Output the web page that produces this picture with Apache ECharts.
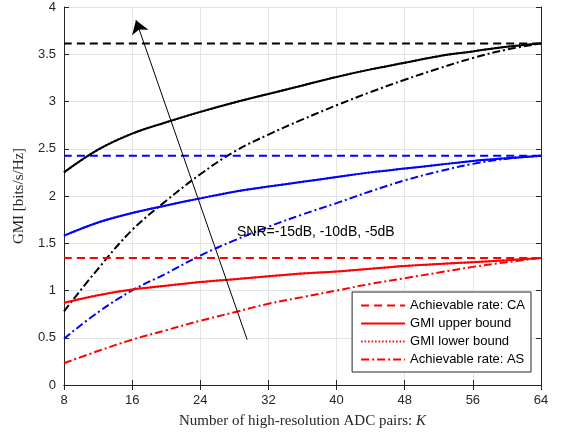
<!DOCTYPE html>
<html><head><meta charset="utf-8">
<script src="https://cdn.jsdelivr.net/npm/echarts@6/dist/echarts.min.js"></script>
<style>html,body{margin:0;padding:0;background:#fff}#c{width:564px;height:434px}</style>
</head><body><div id="c"></div>
<script>
const K = [8, 12, 16, 20, 24, 28, 32, 36, 40, 44, 48, 52, 56, 60, 64];
const xTicks = [8, 16, 24, 32, 40, 48, 56, 64];
const yTicks = [0, 0.5, 1, 1.5, 2, 2.5, 3, 3.5, 4];
const caBlack = 3.615, caBlue = 2.425, caRed = 1.345;
const upperBlack = [2.25, 2.49, 2.66, 2.78, 2.89, 2.99, 3.08, 3.17, 3.26, 3.34, 3.41, 3.48, 3.53, 3.58, 3.615];
const upperBlue  = [1.58, 1.72, 1.82, 1.90, 1.975, 2.045, 2.10, 2.15, 2.20, 2.25, 2.29, 2.33, 2.37, 2.40, 2.425];
const upperRed   = [0.87, 0.95, 1.01, 1.05, 1.09, 1.12, 1.15, 1.18, 1.20, 1.23, 1.26, 1.28, 1.30, 1.32, 1.345];
const asBlack = [0.78, 1.23, 1.64, 1.95, 2.23, 2.47, 2.65, 2.81, 2.96, 3.10, 3.23, 3.35, 3.46, 3.55, 3.615];
const asBlue  = [0.49, 0.77, 1.00, 1.18, 1.37, 1.53, 1.675, 1.805, 1.925, 2.05, 2.165, 2.26, 2.34, 2.395, 2.425];
const asRed   = [0.23, 0.36, 0.48, 0.58, 0.68, 0.77, 0.86, 0.93, 1.00, 1.07, 1.13, 1.19, 1.25, 1.30, 1.345];
const arrowFrom = [29.5, 0.48], arrowTo = [16.45, 3.86];
const legendNames = ['Achievable rate: CA', 'GMI upper bound', 'GMI lower bound', 'Achievable rate: AS'];

const DASH = [8, 5], DASHDOT = [8, 3, 2, 3], DOT = [1.5, 2];
const pair = (arr) => K.map((k, i) => [k, arr[i]]);
const flat = (v) => [[8, v], [64, v]];
function line(name, data, color, type, z) {
  return { name, type: 'line', data, smooth: 0.4, symbol: 'none', z: z || 2,
    lineStyle: { color, width: 2, type }, itemStyle: { color }, emphasis: { disabled: true } };
}
const series = [];
[['k', '#000', caBlack, upperBlack, asBlack], ['b', '#0000ff', caBlue, upperBlue, asBlue], ['r', '#ff0000', caRed, upperRed, asRed]].forEach(([id, c, ca, up, as]) => {
  series.push(line('ca_' + id, flat(ca), c, DASH));
  series.push(line('lo_' + id, pair(up), c, DOT, 2));
  series.push(line('up_' + id, pair(up), c, 'solid', 3));
  series.push(line('as_' + id, pair(as), c, DASHDOT));
});
// legend-only entries (red)
[DASH, 'solid', DOT, DASHDOT].forEach((t, i) => {
  series.push({ name: legendNames[i], type: 'line', data: [], symbol: 'none',
    lineStyle: { color: '#ff0000', width: 2, type: t }, itemStyle: { color: '#ff0000' } });
});
series.push({ name: 'arrow', type: 'line', data: [], symbol: 'none',
  markLine: { silent: true, symbol: ['none', 'arrow'], symbolSize: 13, label: { show: false },
    lineStyle: { color: '#000', width: 1, type: 'solid' },
    data: [[{ coord: arrowFrom }, { coord: arrowTo }]] } });

const axisCommon = {
  axisLine: { show: true, lineStyle: { color: '#262626', width: 1 } },
  axisTick: { show: true, inside: true, length: 5, lineStyle: { color: '#262626' } },
};
const chart = echarts.init(document.getElementById('c'), null, { renderer: 'canvas' });
chart.setOption({
  animation: false,
  backgroundColor: '#fff',
  grid: { left: 64, right: 23, top: 7, bottom: 48 },
  legend: {
    data: legendNames, orient: 'vertical', right: 33, bottom: 62,
    backgroundColor: '#fff', borderColor: '#262626', borderWidth: 1, borderRadius: 0,
    padding: [7, 6, 6, 8], itemGap: 5, itemWidth: 44, itemHeight: 12,
    itemStyle: { opacity: 0 },
    textStyle: { fontFamily: 'Liberation Sans', fontSize: 13, color: '#000' }
  },
  xAxis: [
    Object.assign({ type: 'value', min: 8, max: 64, interval: 8, position: 'bottom',
      name: '{n|Number of high-resolution ADC pairs: }{i|K}', nameLocation: 'middle', nameGap: 29,
      nameTextStyle: { rich: { n: { fontFamily: 'Liberation Serif', fontSize: 15, color: '#262626' },
        i: { fontFamily: 'Liberation Serif', fontStyle: 'italic', fontSize: 15, color: '#262626' } } },
      axisLabel: { fontFamily: 'Liberation Sans', fontSize: 13, color: '#262626', margin: 9,
        customValues: xTicks },
      splitLine: { show: true, lineStyle: { color: '#e5e5e5', width: 1 } } }, axisCommon),
    Object.assign({ type: 'value', min: 8, max: 64, interval: 8, position: 'top',
      axisLabel: { show: false }, splitLine: { show: false } }, axisCommon)
  ],
  yAxis: [
    Object.assign({ type: 'value', min: 0, max: 4, interval: 0.5, position: 'left',
      name: 'GMI [bits/s/Hz]', nameLocation: 'middle', nameGap: 32,
      nameTextStyle: { fontFamily: 'Liberation Serif', fontSize: 15, color: '#262626' },
      axisLabel: { fontFamily: 'Liberation Sans', fontSize: 13, color: '#262626', margin: 8 },
      splitLine: { show: true, lineStyle: { color: '#e5e5e5', width: 1 } } }, axisCommon),
    Object.assign({ type: 'value', min: 0, max: 4, interval: 0.5, position: 'right',
      axisLabel: { show: false }, splitLine: { show: false } }, axisCommon)
  ],
  graphic: [{ type: 'text', left: 237, top: 225, z: 100,
    style: { text: 'SNR=-15dB, -10dB, -5dB', fontFamily: 'Liberation Sans', fontSize: 14, fill: '#000' } }],
  series
});
</script></body></html>
